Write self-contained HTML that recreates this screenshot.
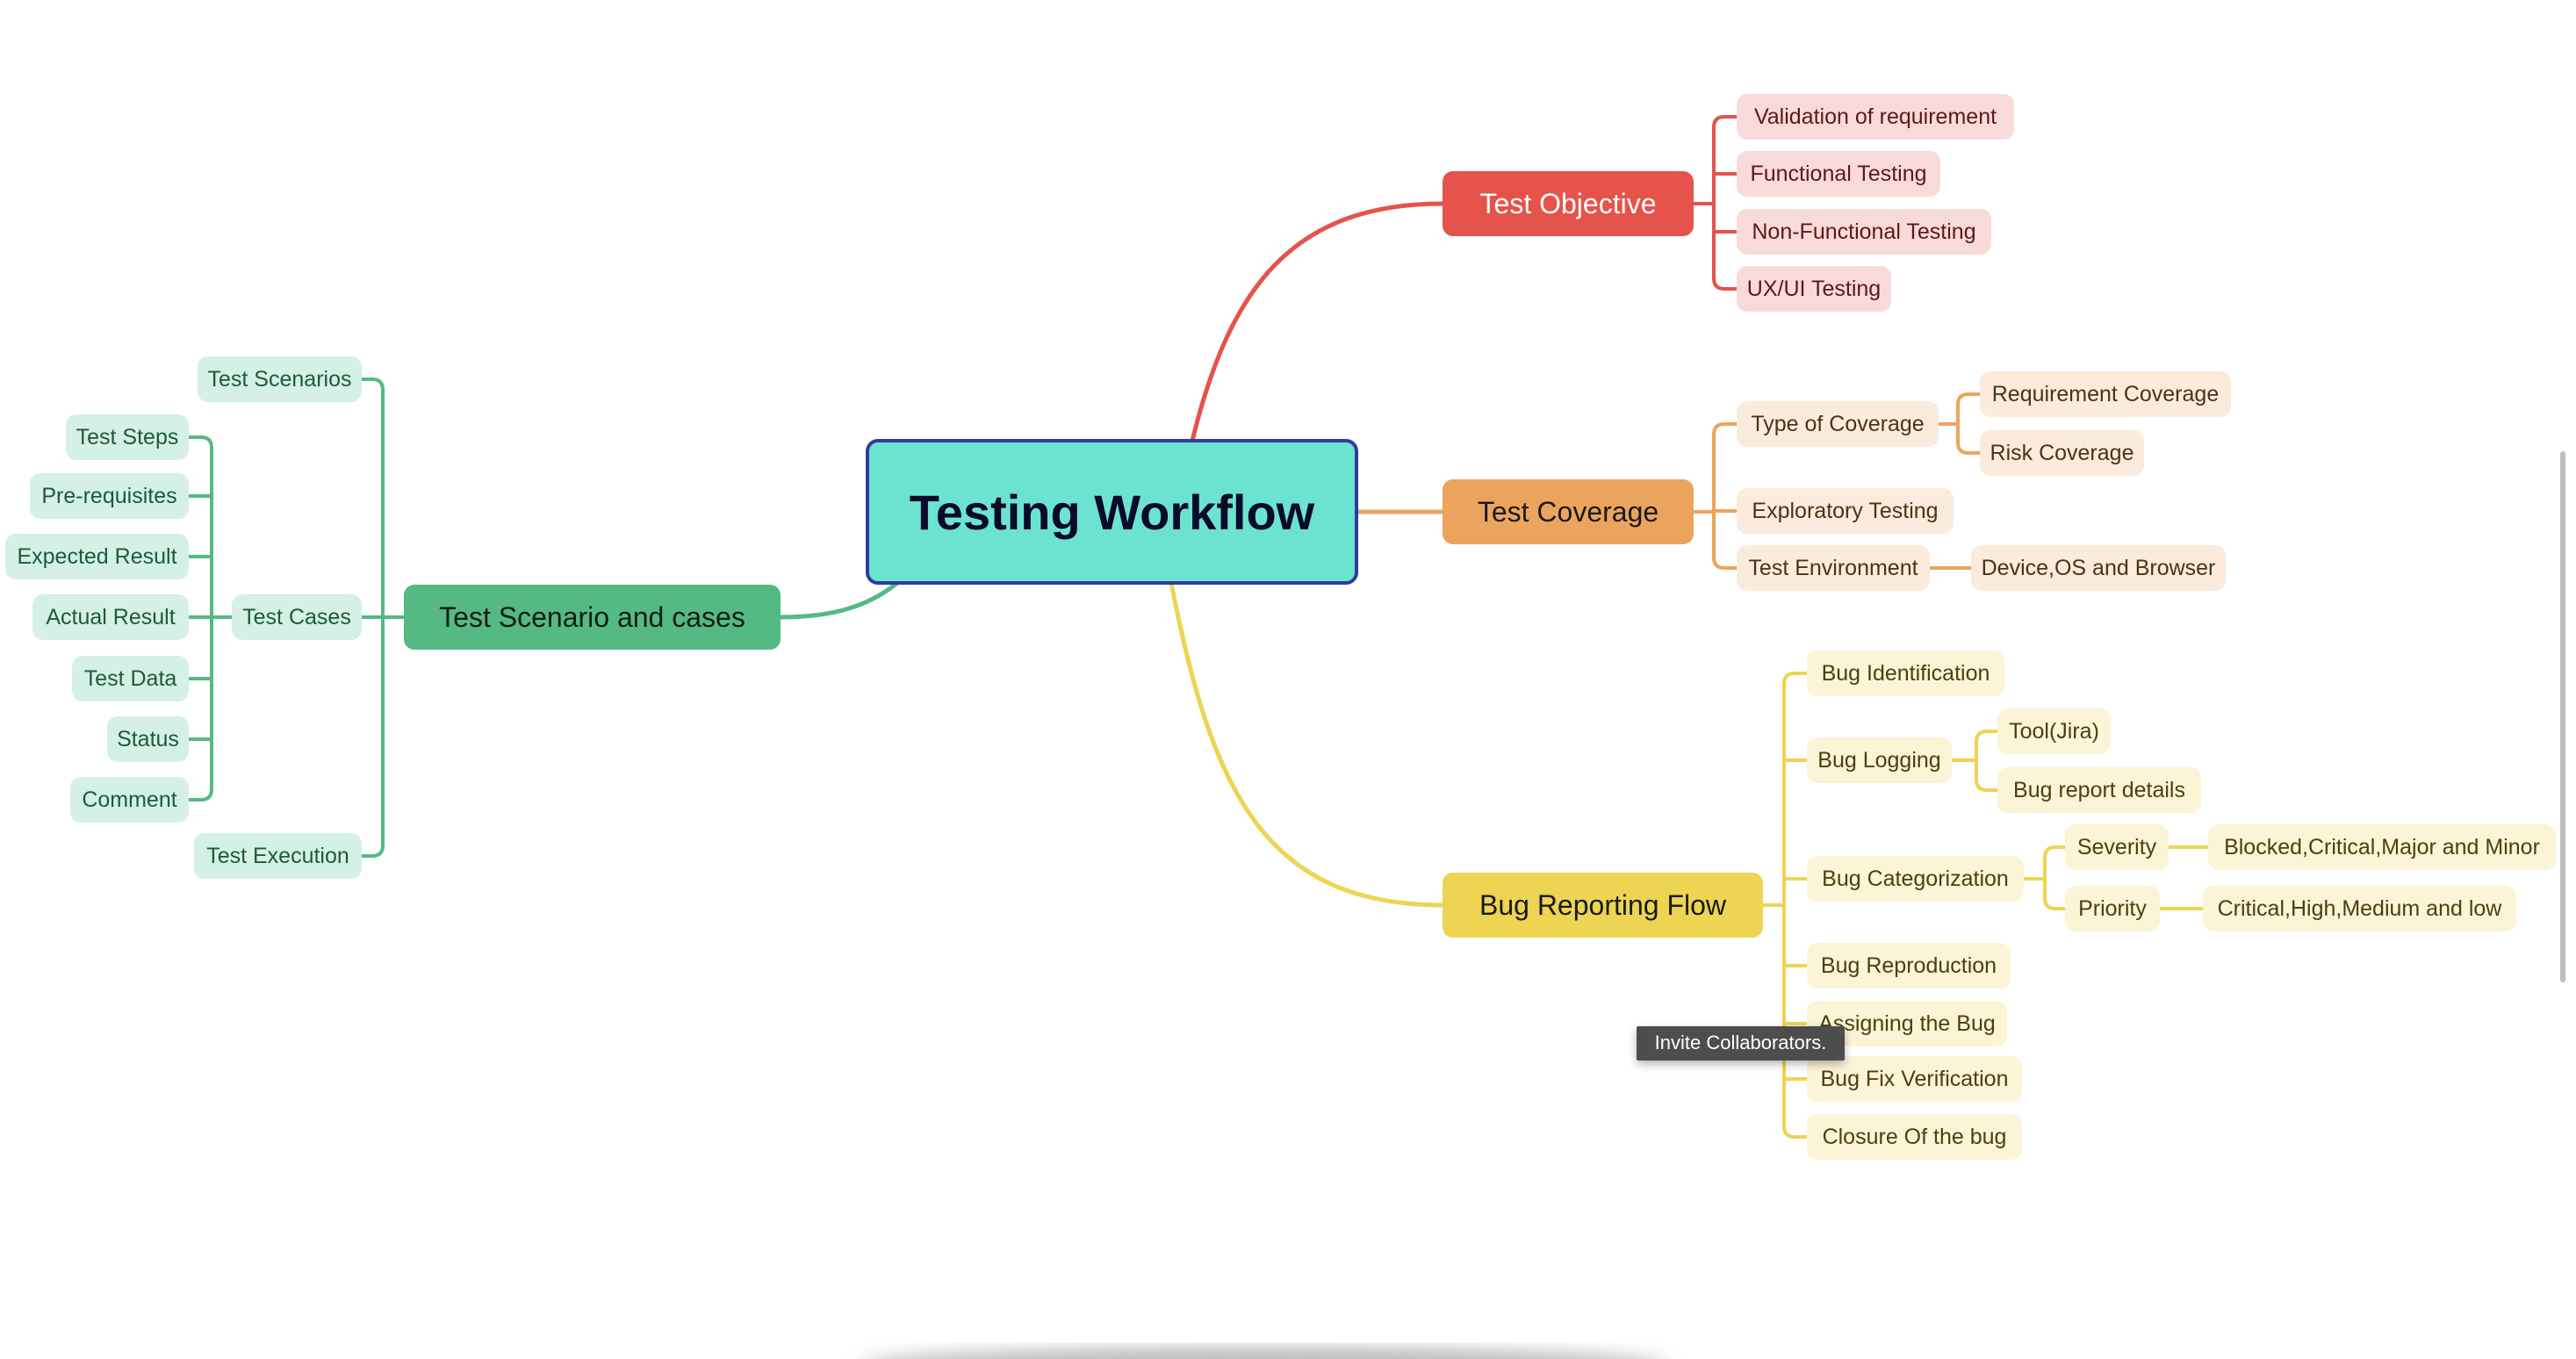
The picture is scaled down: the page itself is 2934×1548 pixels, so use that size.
<!DOCTYPE html>
<html><head><meta charset="utf-8">
<style>
html,body{margin:0;padding:0;background:#fff;width:2934px;height:1548px;overflow:hidden;position:relative;font-family:"Liberation Sans",sans-serif}
.n{position:absolute;box-sizing:border-box;display:flex;align-items:center;justify-content:center;white-space:nowrap;border-radius:12px;font-size:25px}
svg{position:absolute;left:0;top:0}
</style></head><body>
<svg id="s" width="2934" height="1548" viewBox="0 0 2934 1548"></svg>
<div id="root"></div>
<script>
var svg=document.getElementById('s'),root=document.getElementById('root');
var P='';
function path(d,c,w){P+='<path d="'+d+'" fill="none" stroke="'+c+'" stroke-width="'+(w||4)+'" stroke-linecap="round"/>';}
function node(t,x1,x2,cy,h,bg,fg,fs,fw,extra){
  var d=document.createElement('div');d.className='n';d.textContent=t;
  d.style.cssText='left:'+x1+'px;top:'+(cy-h/2)+'px;width:'+(x2-x1)+'px;height:'+h+'px;background:'+bg+';color:'+fg+';font-size:'+fs+'px;font-weight:'+fw+';'+(extra||'');
  root.appendChild(d);
}
// bracket: parent right px at py, trunk x tx, children left cx at ys, right side
function bracketR(px,py,tx,ys,c){
  path('M'+px+','+py+' L'+tx+','+py,c);
  var r=12,mn=Math.min.apply(null,ys.map(a=>a[1])),mx=Math.max.apply(null,ys.map(a=>a[1]));
  if(ys.length>1)path('M'+tx+','+(mn+r)+' L'+tx+','+(mx-r),c);
  ys.forEach(function(a){var cx=a[0],y=a[1];
    if(Math.abs(y-py)<3&&ys.length==1){path('M'+tx+','+y+' L'+cx+','+y,c);return;}
    if(y==mn&&ys.length>1)path('M'+tx+','+(y+r)+' Q'+tx+','+y+' '+(tx+r)+','+y+' L'+cx+','+y,c);
    else if(y==mx&&ys.length>1)path('M'+tx+','+(y-r)+' Q'+tx+','+y+' '+(tx+r)+','+y+' L'+cx+','+y,c);
    else path('M'+tx+','+y+' L'+cx+','+y,c);});
}
function bracketL(px,py,tx,ys,c){
  path('M'+px+','+py+' L'+tx+','+py,c);
  var r=12,mn=Math.min.apply(null,ys.map(a=>a[1])),mx=Math.max.apply(null,ys.map(a=>a[1]));
  path('M'+tx+','+(mn+r)+' L'+tx+','+(mx-r),c);
  ys.forEach(function(a){var cx=a[0],y=a[1];
    if(y==mn)path('M'+tx+','+(y+r)+' Q'+tx+','+y+' '+(tx-r)+','+y+' L'+cx+','+y,c);
    else if(y==mx)path('M'+tx+','+(y-r)+' Q'+tx+','+y+' '+(tx-r)+','+y+' L'+cx+','+y,c);
    else path('M'+tx+','+y+' L'+cx+','+y,c);});
}
// colors
var R='#e5534b',RL='#f8dada',RT='#5e1818';
var O='#eba45e',OL='#fbebdc',OT='#4e3216';
var Y='#edd452',YL='#fcf4d6',YT='#4a4010';
var G='#55b983',GL='#d5f0e6',GT='#1d5a3a';
// main curves
path('M1358,502 C1400,330 1470,232 1643,232',R,5);
path('M1547,583 L1643,583',O,5);
path('M1334,664 C1380,900 1440,1031 1643,1031',Y,5);
path('M1022,664 C990,690 950,703 889,703',G,5);
// objective
bracketR(1929,232,1952,[[1978,133],[1978,198],[1978,264],[1978,329]],R);
// coverage
bracketR(1929,583,1952,[[1978,483],[1978,582],[1978,647]],O);
bracketR(2208,483,2230,[[2255,449],[2255,516]],O);
path('M2198,647 L2245,647',O);
// bug
bracketR(2008,1031,2032,[[2058,767],[2058,866],[2058,1001],[2058,1100],[2058,1166],[2058,1229],[2058,1295]],Y);
bracketR(2223,866,2251,[[2275,833],[2275,900]],Y);
bracketR(2305,1001,2329,[[2352,965],[2352,1035]],Y);
path('M2470,965 L2515,965',Y);path('M2460,1035 L2509,1035',Y);
// left
bracketL(460,703,436,[[412,432],[412,703],[412,975]],G);
bracketL(264,703,241,[[215,498],[215,565],[215,634],[215,703],[215,773],[215,842],[215,911]],G);
svg.innerHTML=P+'<defs><filter id="b"><feGaussianBlur stdDeviation="10"/></filter></defs><ellipse cx="1440" cy="1556" rx="460" ry="22" fill="#bbb" filter="url(#b)"/><rect x="2916" y="514" width="6" height="605" rx="3" fill="#bdbdbd"/>';
// nodes
node('Testing Workflow',986,1547,583,166,'#6ce3d0','#0a0a2a',56,'bold','border:4px solid #2c3d9a;border-radius:14px;');
node('Test Objective',1643,1929,232,74,R,'#fff',32,'normal');
node('Test Coverage',1643,1929,583,74,O,'#1a1a1a',32,'normal');
node('Bug Reporting Flow',1643,2008,1031,74,Y,'#1a1a1a',32,'normal');
node('Test Scenario and cases',460,889,703,74,G,'#0f1f17',32,'normal');
var h=52;
[['Validation of requirement',1978,2294,133],['Functional Testing',1978,2210,198],['Non-Functional Testing',1978,2268,264],['UX/UI Testing',1978,2154,329]].forEach(a=>node(a[0],a[1],a[2],a[3],h,RL,RT,25,'normal'));
[['Type of Coverage',1978,2208,483],['Requirement Coverage',2255,2541,449],['Risk Coverage',2255,2442,516],['Exploratory Testing',1978,2225,582],['Test Environment',1978,2198,647],['Device,OS and Browser',2245,2535,647]].forEach(a=>node(a[0],a[1],a[2],a[3],h,OL,OT,25,'normal'));
[['Bug Identification',2058,2283,767],['Bug Logging',2058,2223,866],['Tool(Jira)',2275,2404,833],['Bug report details',2275,2507,900],['Bug Categorization',2058,2305,1001],['Severity',2352,2470,965],['Blocked,Critical,Major and Minor',2515,2911,965],['Priority',2352,2460,1035],['Critical,High,Medium and low',2509,2866,1035],['Bug Reproduction',2058,2290,1100],['Assigning the Bug',2058,2286,1166],['Bug Fix Verification',2058,2303,1229],['Closure Of the bug',2058,2303,1295]].forEach(a=>node(a[0],a[1],a[2],a[3],h,YL,YT,25,'normal'));
[['Test Scenarios',225,412,432],['Test Cases',264,412,703],['Test Execution',221,412,975],['Test Steps',75,215,498],['Pre-requisites',34,215,565],['Expected Result',6,215,634],['Actual Result',37,215,703],['Test Data',82,215,773],['Status',122,215,842],['Comment',80,215,911]].forEach(a=>node(a[0],a[1],a[2],a[3],h,GL,GT,25,'normal'));
node('Invite Collaborators.',1864,2101,1188,39,'#4d4d4d','#fff',22,'normal','border-radius:2px;box-shadow:0 4px 10px rgba(0,0,0,.3);');
</script>
</body></html>
